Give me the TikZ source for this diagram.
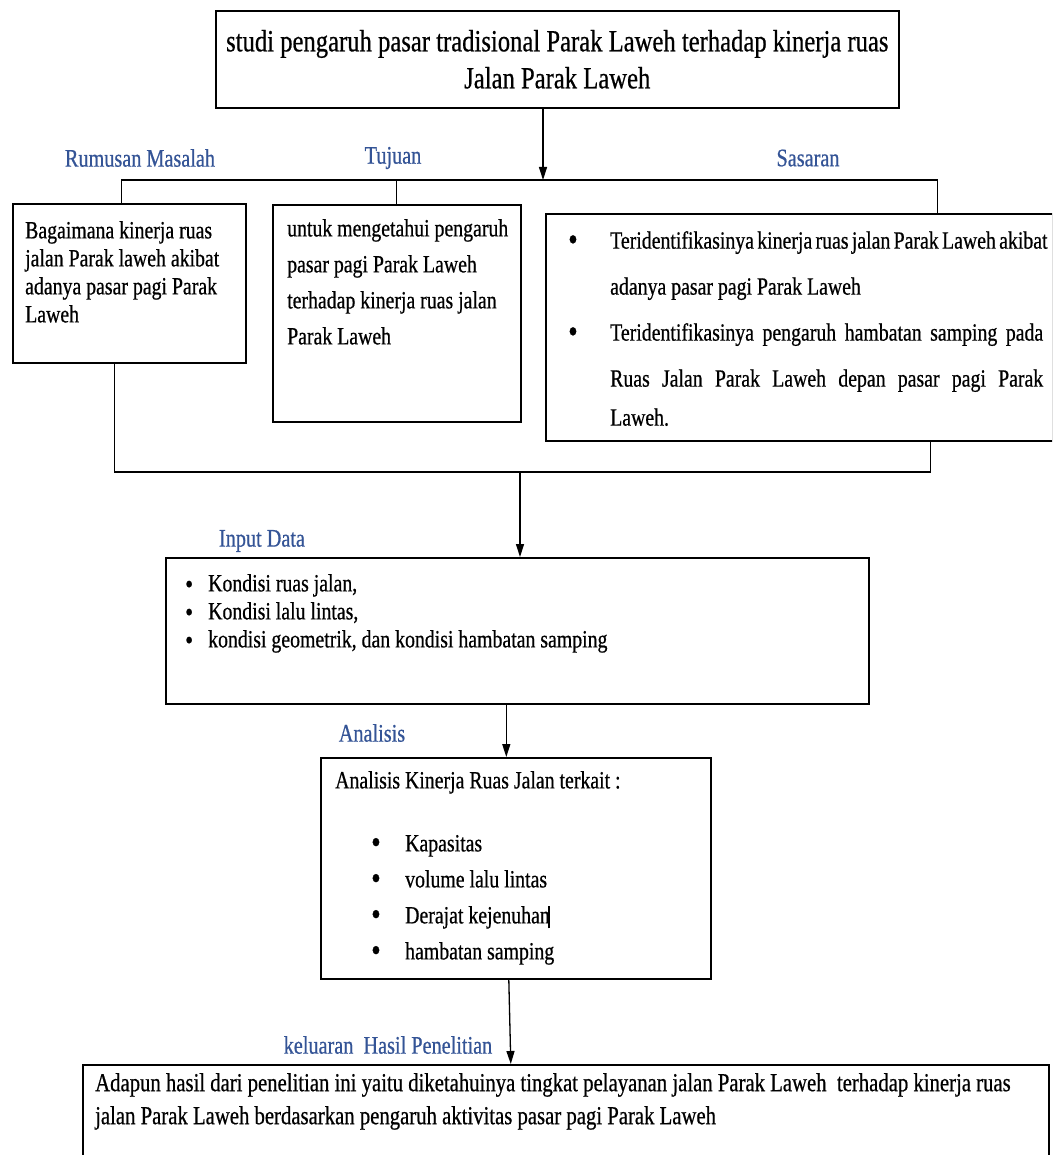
\documentclass[tikz,border=0pt]{standalone}
\usepackage{fontspec}
\setmainfont{Liberation Serif}[FakeStretch=0.8, FakeBold=0.6]
\usepackage{tikz}
\usetikzlibrary{arrows.meta, positioning}
\definecolor{judulbiru}{RGB}{52,84,150}
\newcommand{\titik}[1][34]{\smash{\raisebox{-2pt}{\fontsize{#1}{0}\selectfont\textbullet}}}

\begin{document}
\begin{tikzpicture}[x=1pt, y=-1pt, >={Triangle[length=13pt, width=8pt]},
kotak/.style={rectangle, draw=black, line width=1.6pt, inner sep=0pt, anchor=north west},
isi/.style={inner sep=0pt, anchor=north west, align=left, font=\fontsize{24.75}{28}\selectfont},
judul/.style={text=judulbiru, inner sep=0pt, font=\fontsize{25.3}{28}\selectfont},
garis/.style={line width=1.3pt}
]
	\clip (0,0) rectangle (1052,1155);
	\node[kotak, minimum width=683pt, minimum height=97pt, align=center, font=\fontsize{30.8}{37}\selectfont] (utama) at (215,10) {studi pengaruh pasar tradisional Parak Laweh terhadap kinerja ruas\\Jalan Parak Laweh};

	\node[judul] (lbl-rumusan) at (140,158) {Rumusan Masalah};
	\node[judul] (lbl-tujuan) at (393,158) {Tujuan};
	\node[judul] (lbl-sasaran) at (808,158) {Sasaran};

	\node[kotak, minimum width=233pt, minimum height=159pt] (rumusan) at (12,203) {};
	\node[kotak, minimum width=248pt, minimum height=217pt] (tujuan) at (272,204) {};
	\node[kotak, minimum width=507pt, minimum height=227pt] (sasaran) at (545,213) {};

	\node[isi] (isi-rumusan) at (25,221) {Bagaimana kinerja ruas\\jalan Parak laweh akibat\\adanya pasar pagi Parak\\Laweh};
	\node[isi, font=\fontsize{24.75}{36}\selectfont] (isi-tujuan) at (287,219) {untuk mengetahui pengaruh\\pasar pagi Parak Laweh\\terhadap kinerja ruas jalan\\Parak Laweh};
	\node[isi, font=\fontsize{24.75}{46}\selectfont] (isi-sasaran) at (568,231) {\makebox[42pt][l]{\titik}\makebox[433pt][s]{Teridentifikasinya kinerja ruas jalan Parak Laweh akibat}\\
		\hspace*{42pt}adanya pasar pagi Parak Laweh\\
		\makebox[42pt][l]{\titik}\makebox[433pt][s]{Teridentifikasinya pengaruh hambatan samping pada}\\
		\hspace*{42pt}\makebox[433pt][s]{Ruas Jalan Parak Laweh depan pasar pagi Parak}\\[-7pt]
		\hspace*{42pt}Laweh.};

	\node[judul] (lbl-input) at (262,541) {Input Data};
	\node[kotak, minimum width=703pt, minimum height=146pt] (input) at (165,557) {};
	\node[isi] (isi-input) at (185,574) {\makebox[23pt][l]{\titik[28]}Kondisi ruas jalan,\\
		\makebox[23pt][l]{\titik[28]}Kondisi lalu lintas,\\
		\makebox[23pt][l]{\titik[28]}kondisi geometrik, dan kondisi hambatan samping};

	\node[judul] (lbl-analisis) at (372,733) {Analisis};
	\node[kotak, minimum width=390pt, minimum height=221pt] (analisis) at (320,757) {};
	\node[isi, font=\fontsize{24.75}{36}\selectfont] (isi-analisis) at (335,771) {Analisis Kinerja Ruas Jalan terkait :\\[27pt]
		\hspace*{36pt}\makebox[34pt][l]{\titik}Kapasitas\\
		\hspace*{36pt}\makebox[34pt][l]{\titik}volume lalu lintas\\
		\hspace*{36pt}\makebox[34pt][l]{\titik}Derajat kejenuhan\kern-2pt\rule[-5pt]{2.5pt}{22pt}\\
		\hspace*{36pt}\makebox[34pt][l]{\titik}hambatan samping};

	\node[judul] (lbl-hasil) at (388,1045) {keluaran\ \ Hasil Penelitian};
	\node[kotak, minimum width=966pt, minimum height=130pt] (hasil) at (82,1064) {};
	\node[isi, font=\fontsize{25.9}{33}\selectfont] (isi-hasil) at (95,1073) {Adapun hasil dari penelitian ini yaitu diketahuinya tingkat pelayanan jalan Parak Laweh\ \ terhadap kinerja ruas\\jalan Parak Laweh berdasarkan pengaruh aktivitas pasar pagi Parak Laweh};

	\coordinate (cabang) at (543,180);
	\coordinate (gabung) at (520,472);
	\draw[garis, ->] (utama.south -| cabang) -- (cabang);
	\draw[garis] ([xshift=-7.5pt]rumusan.north) |- (cabang) -| ([xshift=138.5pt]sasaran.north);
	\draw[garis] (tujuan.north) -- (tujuan.north |- cabang);
	\draw[garis] ([xshift=-15pt]rumusan.south) |- (gabung) -| ([xshift=131pt]sasaran.south);
	\draw[garis, ->] (gabung) -- (gabung |- input.north);
	\draw[garis, ->] ([xshift=-11pt]input.south) -- ([xshift=-11pt]input.south |- analisis.north);
	\draw[garis, ->] ([xshift=-7pt]analisis.south) -- ([xshift=-55pt]hasil.north);
\end{tikzpicture}
\end{document}
